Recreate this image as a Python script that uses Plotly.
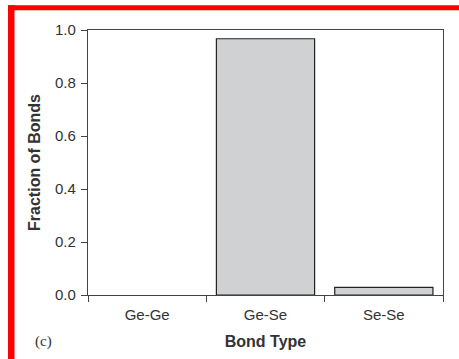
import plotly.graph_objects as go

categories = ["Ge-Ge", "Ge-Se", "Se-Se"]
fractions = [0.0, 0.967, 0.029]
y_ticks = [0.0, 0.2, 0.4, 0.6, 0.8, 1.0]
y_tick_labels = ["0.0", "0.2", "0.4", "0.6", "0.8", "1.0"]

W, H = 459, 359
L, R, T, B = 88, 16, 30, 62
pw, ph = W - L - R, H - T - B

def px(x):
    return (x - L) / pw

def py(y):
    return (H - B - y) / ph

fig = go.Figure()
fig.add_trace(go.Bar(
    x=categories, y=fractions, width=0.83,
    marker=dict(color="#d0d1d3",
                line=dict(color="#222222", width=[1.2 if v > 0 else 0 for v in fractions])),
))

axis_common = dict(showline=True, linecolor="#444444", linewidth=1.2, mirror=True,
                   showgrid=False, zeroline=False, ticks="outside", tickcolor="#444444",
                   tickwidth=1.2, ticklen=6,
                   tickfont=dict(family="Liberation Sans, Arial", size=15, color="#333333"))

fig.update_xaxes(**axis_common, type="category", tickson="boundaries",
                 range=[-0.5, 2.5], ticklabelstandoff=6,
                 title=dict(text="<b>Bond Type</b>", standoff=13,
                            font=dict(family="Liberation Sans, Arial", size=16, color="#333333")))
fig.update_yaxes(**axis_common, range=[0, 1.0], tickvals=y_ticks, ticktext=y_tick_labels,
                 ticklabelstandoff=2,
                 title=dict(text="<b>Fraction of Bonds</b>", standoff=10,
                            font=dict(family="Liberation Sans, Arial", size=16, color="#333333")))

shapes = [
    dict(type="rect", xref="paper", yref="paper", x0=px(8), x1=px(470), y0=py(5), y1=py(10),
         fillcolor="#ff0000", line=dict(width=0), layer="above"),
    dict(type="rect", xref="paper", yref="paper", x0=px(8), x1=px(14.5), y0=py(5), y1=py(370),
         fillcolor="#ff0000", line=dict(width=0), layer="above"),
]

fig.update_layout(
    width=W, height=H, margin=dict(l=L, r=R, t=T, b=B, pad=0),
    plot_bgcolor="white", paper_bgcolor="white", showlegend=False,
    shapes=shapes,
    annotations=[dict(text="(c)", xref="paper", yref="paper", x=px(43), y=py(344),
                      xanchor="center", yanchor="middle", showarrow=False,
                      font=dict(family="Liberation Serif, Times New Roman", size=15, color="#333333"))],
)

fig.write_html("out.html", config={"displayModeBar": False},
               post_script="document.body.style.margin='0';document.body.style.overflow='hidden';")
